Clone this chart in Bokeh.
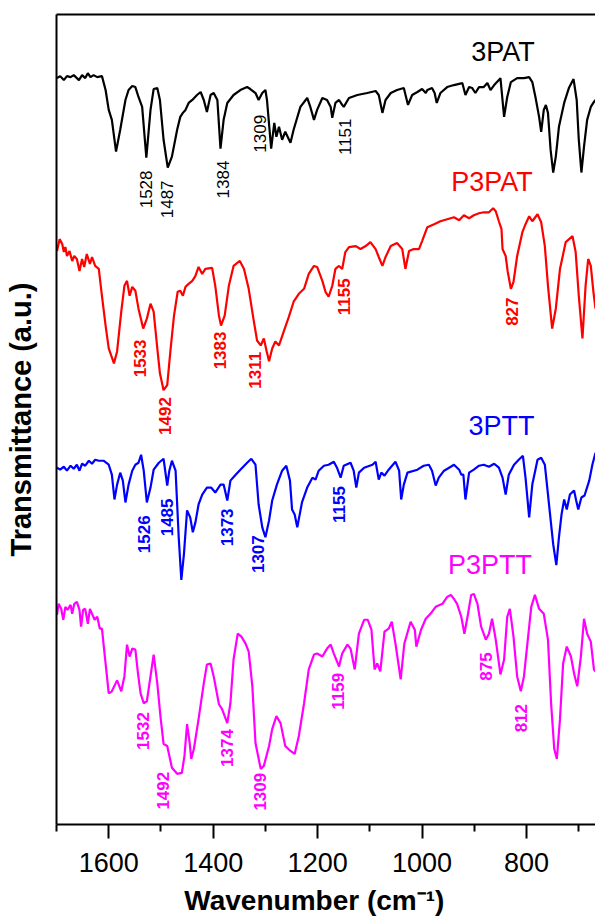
import math
from bokeh.plotting import figure
from bokeh.models import Range1d, FixedTicker, LinearAxis
from bokeh.embed import file_html
from bokeh.resources import INLINE
from bokeh.core.properties import value

FONT = "Liberation Sans"

# ---------------- data (wavenumber in cm-1, transmittance in a.u., stacked) ----------------
pat_wn = [1699,1693,1686,1680,1673,1667,1657,1651,1645,1640,
          1635,1629,1622,1613,1606,1600,1594,1586,1578,1568,
          1562,1555,1549,1543,1536,1528,1520,1514,1507,1502,
          1495,1487,1479,1469,1463,1458,1453,1447,1440,1431,
          1424,1418,1412,1405,1399,1392,1386,1380,1373,1361,
          1348,1335,1329,1319,1313,1306,1300,1297,1289,1283,
          1279,1274,1268,1262,1252,1246,1233,1220,1214,1207,
          1201,1191,1182,1175,1172,1166,1159,1153,1150,1140,
          1124,1105,1089,1083,1076,1070,1060,1048,1035,1027,
          1019,1009,1000,993,990,981,976,972,965,952,
          939,923,917,910,904,898,891,882,875,869,
          862,853,850,843,837,830,818,805,795,789,
          783,776,772,767,763,759,754,749,744,738,
          728,719,710,704,700,695,690,684,677,671,
          668]
pat_t = [751,753,749,753,752,754,749,754,751,756,
         752,754,752,753,739,719,709,677,699,729,
         739,743,742,732,722,671,719,740,741,729,
         689,661,672,699,712,716,719,726,729,734,
         737,729,717,734,736,729,680,709,726,734,
         739,742,740,736,729,736,739,729,680,706,
         692,702,689,697,686,699,722,731,722,709,
         719,731,729,722,711,726,729,724,722,731,
         734,736,738,734,716,729,736,739,741,724,
         734,737,740,736,739,741,736,726,736,742,
         744,746,734,742,741,736,742,742,746,739,
         744,749,751,712,732,747,751,751,752,747,
         732,712,697,719,724,716,679,656,672,702,
         726,741,750,729,689,656,682,709,722,727,
         729]

ppat_wn = [1699,1694,1689,1686,1683,1680,1675,1670,1666,1661,1656,1651,1647,1642,1636,1632,1626,1619,1613,1606,
           1600,1590,1584,1576,1570,1565,1560,1555,1549,1543,1534,1527,1520,1514,1507,1502,1495,1488,1482,1475,
           1468,1463,1458,1453,1447,1440,1434,1428,1421,1415,1402,1396,1389,1385,1378,1370,1361,1349,1341,1332,
           1323,1316,1309,1303,1298,1293,1287,1281,1274,1265,1255,
           1246,1236,1226,1217,1207,1201,1191,1185,1179,1172,1166,1159,1153,1147,1140,1127,1118,1108,1099,1089,
           1083,1076,1070,1060,1048,1038,1032,1025,1016,1006,1000,990,
           977,965,952,939,929,920,910,901,891,882,872,864,859,853,848,
           846,840,836,830,825,818,808,802,795,789,779,772,765,759,751,744,736,725,712,706,
           700,693,687,682,677,672,668]
ppat_t = [577,589,584,576,581,572,577,567,572,569,557,569,561,574,564,571,562,559,532,502,
          479,464,476,516,542,547,532,541,537,519,499,509,524,516,479,454,437,442,476,512,
          536,537,532,541,544,547,552,561,554,559,560,542,512,502,512,542,562,567,559,539,
          509,487,482,489,477,466,479,486,482,496,511,
          526,534,539,554,562,561,547,536,531,542,559,562,559,576,581,582,579,582,586,579,
          571,562,571,582,585,579,559,577,579,579,587,601,
          604,607,609,611,608,613,610,613,615,616,616,620,617,607,599,
          579,572,556,539,546,572,596,604,612,607,614,606,582,542,499,519,559,586,592,576,
          532,489,542,569,562,536,519]

ptt_wn = [1699,1693,1686,1680,1673,1667,1661,1656,1651,1645,1638,1632,1626,1619,1610,1600,1594,1589,1584,1578,
          1573,1568,1562,1555,1549,1543,1538,1533,1527,1520,1514,1504,1495,1488,1484,1479,1472,1466,1461,1456,
          1450,1444,1439,1434,1428,1421,1412,1404,1396,1386,1380,1373,1367,1357,1348,1335,1327,1319,1313,1306,
          1300,1293,1287,1278,1268,1260,1253,1249,1244,
          1239,1230,1220,1210,1204,1198,1188,1179,1169,1163,1156,1150,1137,1131,1126,1121,1111,1095,1089,1083,
          1078,1072,1064,1051,1044,1040,1035,1028,1009,997,987,981,974,968,958,945,939,929,925,921,
          917,910,901,891,882,872,862,853,846,840,834,824,815,807,802,795,789,779,772,765,
          757,749,743,738,733,728,723,717,709,705,701,695,689,680,674,668]
ptt_t = [359,357,360,356,361,358,362,356,363,361,366,363,367,366,366,362,352,327,342,354,
         346,324,342,356,362,364,372,356,324,339,357,364,368,341,356,366,356,289,246,272,
         316,309,294,304,322,332,339,339,334,342,342,326,346,352,357,364,368,362,322,299,
         289,306,326,342,356,361,346,317,312,
         299,324,339,349,347,356,361,362,365,359,349,361,364,356,339,354,359,362,365,347,
         354,351,357,365,356,327,342,354,357,361,362,356,341,349,356,360,362,357,352,352,
         327,354,357,361,362,360,363,359,349,332,352,362,367,371,349,309,342,367,369,362,
         322,282,261,289,312,327,317,332,336,326,317,329,331,346,362,374]

pptt_wn = [1699,1696,1691,1687,1683,1679,1673,1670,1666,1661,1656,1653,1649,1645,1640,1636,1632,1627,1622,1617,
           1613,1608,1604,1600,1594,1584,1576,1570,1565,1560,1555,1549,1544,1539,1533,1527,1520,1514,1507,1501,
           1495,1488,1479,1469,1460,1455,1450,1445,1442,1437,1428,1418,1412,1405,1399,1389,1383,1373,1367,1361,
           1353,1346,1338,1332,1325,1319,1309,1303,1293,1287,1279,1271,1262,1252,
           1244,1236,1226,1217,1207,1201,1191,1182,1175,1169,1159,1153,1143,1137,1129,1121,1111,1104,1097,1091,
           1086,1080,1072,1064,1058,1051,1041,1034,1022,1014,1011,1002,993,984,974,961,952,945,939,933,
           925,919,912,906,901,894,887,878,872,866,859,850,843,837,832,825,818,811,805,797,
           791,784,776,767,759,753,747,742,736,730,723,715,709,703,696,690,684,677,671,668]
pptt_t = [211,222,217,206,219,216,221,212,222,224,216,199,216,217,202,217,212,206,209,197,
          197,172,152,132,134,145,134,149,181,169,177,176,152,132,122,124,149,171,142,109,
          81,79,57,51,52,69,101,82,66,76,106,142,161,162,149,121,116,102,122,166,
          192,189,182,174,139,82,56,59,79,96,109,102,79,74,
          71,89,122,156,171,172,169,177,181,172,159,172,181,177,156,192,206,206,196,156,
          162,154,194,197,204,182,146,182,204,196,179,196,207,212,219,222,229,231,227,222,
          209,192,212,231,232,222,199,186,192,207,186,151,166,209,217,189,149,134,149,189,
          219,231,217,212,186,122,76,66,106,162,179,169,152,139,169,207,192,184,156,154]

series_names = ["3PAT", "P3PAT", "3PTT", "P3PTT"]
series_colors = ["#000000", "#ff0000", "#0000ff", "#ff00ff"]
name_x = [845, 866, 848, 870]
name_y = [777, 646, 401, 261]

pat_lab = ["1528", "1487", "1384", "1309", "1151"]
pat_lab_x = [1528, 1488, 1381, 1311, 1147]
pat_lab_y = [639, 629, 649, 695, 692]
ppat_lab = ["1533", "1492", "1383", "1311", "1155", "827"]
ppat_lab_x = [1541, 1493, 1386, 1319, 1150, 827]
ppat_lab_y = [469, 411, 477, 457, 531, 516]
ptt_lab = ["1526", "1485", "1373", "1307", "1155"]
ptt_lab_x = [1532, 1488, 1373, 1314, 1159]
ptt_lab_y = [292, 309, 299, 272, 322]
pptt_lab = ["1532", "1492", "1374", "1309", "1159", "875", "812"]
pptt_lab_x = [1534, 1496, 1373, 1311, 1161, 878, 810]
pptt_lab_y = [94, 34, 77, 33, 134, 159, 107]

x_major = [1600, 1400, 1200, 1000, 800]
x_minor = [1700, 1500, 1300, 1100, 900, 700]
x_title = "Wavenumber (cm\u207b\u00b9)\u00a0\u00a0\u00a0"
y_title = "Transmittance (a.u.)"

# ---------------- figure ----------------
p = figure(width=595, height=918, output_backend="svg", toolbar_location=None,
           x_range=Range1d(1700, 668), y_range=Range1d(0, 815),
           min_border_left=56, min_border_right=0, min_border_top=14, min_border_bottom=89,
           x_axis_label=x_title, y_axis_label=y_title)
p.grid.visible = False
p.outline_line_color = None
p.background_fill_color = "white"
p.border_fill_color = "white"

xa = p.xaxis[0]
xa.ticker = FixedTicker(ticks=x_major, minor_ticks=x_minor)
xa.major_tick_in = 0
xa.major_tick_out = 14
xa.minor_tick_in = 0
xa.minor_tick_out = 7
xa.axis_line_width = 2
xa.major_tick_line_width = 2
xa.minor_tick_line_width = 2
xa.major_label_text_font = FONT
xa.major_label_text_font_size = "27px"
xa.major_label_text_color = "black"
xa.major_label_standoff = 14
xa.axis_label_text_font = FONT
xa.axis_label_text_font_style = "bold"
xa.axis_label_text_font_size = "28px"
xa.axis_label_text_color = "black"
xa.axis_label_standoff = 10

ya = p.yaxis[0]
ya.ticker = FixedTicker(ticks=[])
ya.major_label_text_font_size = "0px"
ya.major_tick_in = 0
ya.major_tick_out = 0
ya.minor_tick_in = 0
ya.minor_tick_out = 0
ya.major_label_standoff = 0
ya.axis_line_width = 2
ya.axis_label_text_font = FONT
ya.axis_label_text_font_style = "bold"
ya.axis_label_text_font_size = "29px"
ya.axis_label_text_color = "black"
ya.axis_label_standoff = 20

top = LinearAxis(ticker=FixedTicker(ticks=[]), major_label_text_font_size="0px",
                 major_tick_in=0, major_tick_out=0, minor_tick_in=0, minor_tick_out=0,
                 major_label_standoff=0, axis_line_width=2)
p.add_layout(top, "above")

spectra = [(pat_wn, pat_t), (ppat_wn, ppat_t), (ptt_wn, ptt_t), (pptt_wn, pptt_t)]
for (wn, t), c in zip(spectra, series_colors):
    p.line(wn, t, line_color=c, line_width=2.2)

p.text(x=name_x, y=name_y, text=series_names, text_color=series_colors,
       text_font=value(FONT), text_font_size="27px",
       text_align="center", text_baseline="middle")

labels = [(pat_lab, pat_lab_x, pat_lab_y, "normal"),
          (ppat_lab, ppat_lab_x, ppat_lab_y, "bold"),
          (ptt_lab, ptt_lab_x, ptt_lab_y, "bold"),
          (pptt_lab, pptt_lab_x, pptt_lab_y, "bold")]
for (txt, lx, ly, style), c in zip(labels, series_colors):
    p.text(x=lx, y=ly, text=txt, angle=math.pi / 2, text_color=c,
           text_font=value(FONT), text_font_size="17px", text_font_style=style,
           text_align="center", text_baseline="middle")

open("out.html", "w").write(file_html(p, INLINE))
